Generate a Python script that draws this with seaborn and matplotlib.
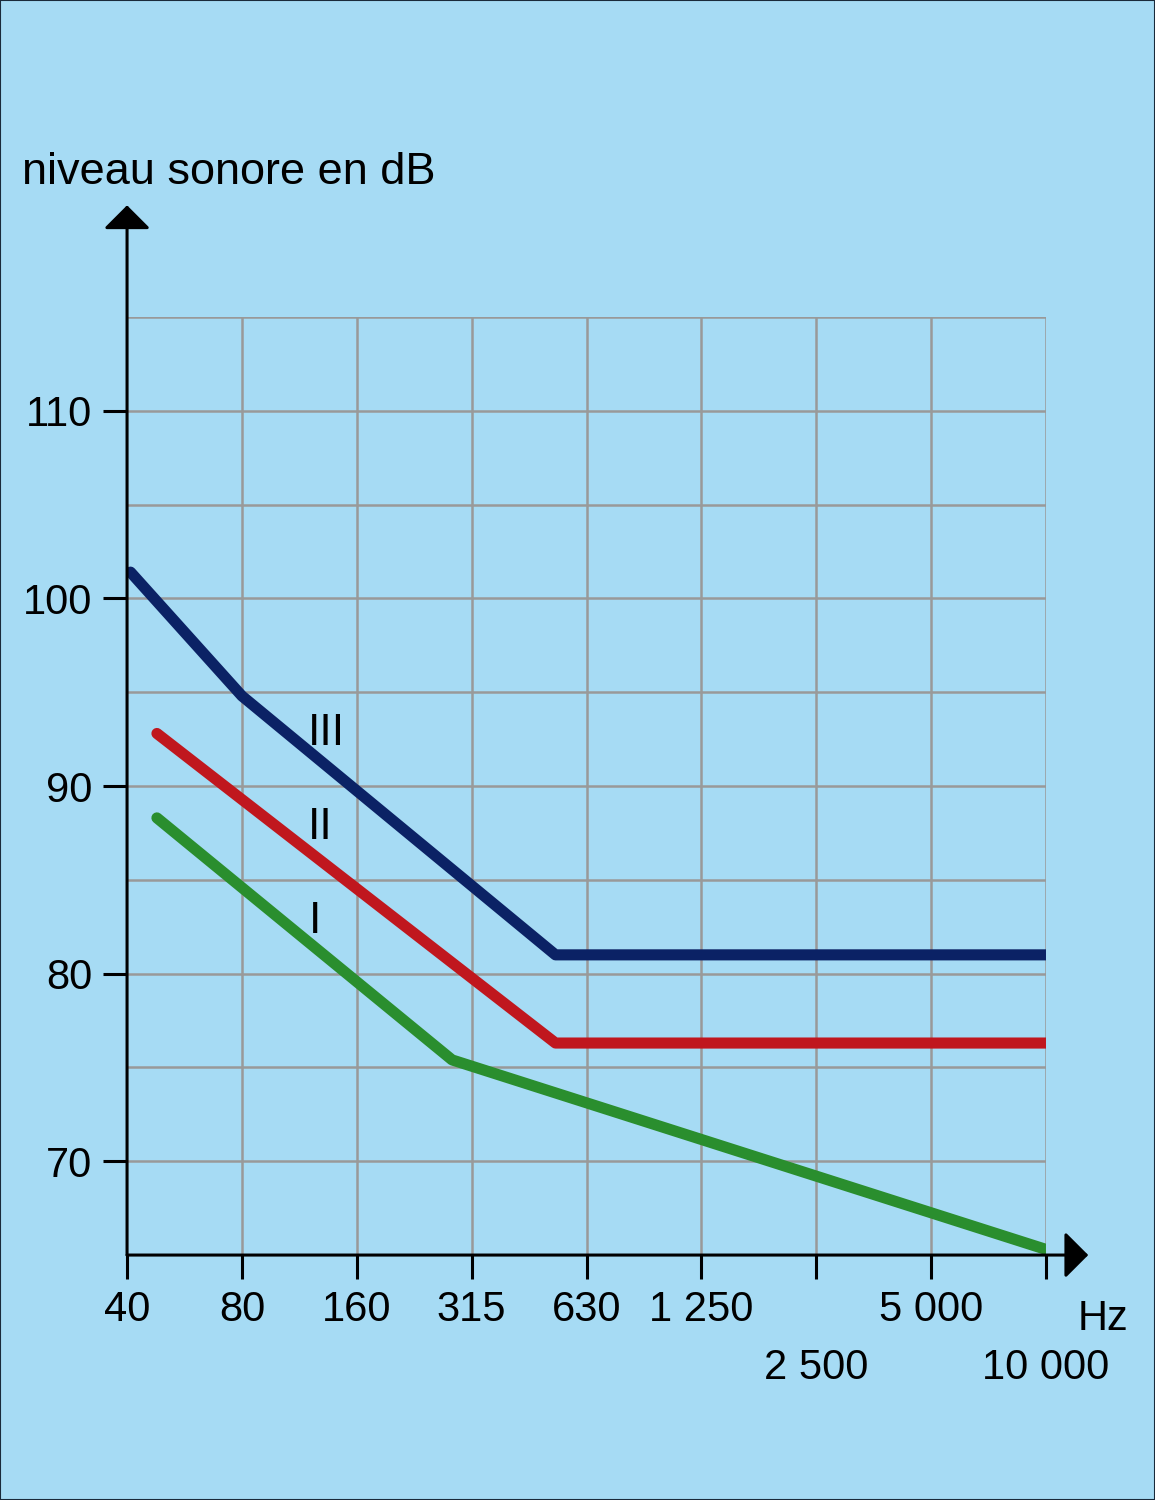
import matplotlib.pyplot as plt
import matplotlib.patches as mpatches
import seaborn as sns
import pandas as pd
import numpy as np

# octave band labels (x positions are band index 0..8)
bands = ['40', '80', '160', '315', '630', '1 250', '2 500', '5 000', '10 000']
y_ticks = [70, 80, 90, 100, 110]

# curves, x in octave-band units from the 40 Hz band
curve_III_x = [0.03, 1.0, 3.73, 8.0]
curve_III_y = [101.4, 94.8, 81.0, 81.0]
curve_II_x = [0.26, 3.73, 8.0]
curve_II_y = [92.8, 76.3, 76.3]
curve_I_x = [0.26, 2.83, 8.0]
curve_I_y = [88.3, 75.4, 65.3]

df = pd.concat([
    pd.DataFrame({'octave': curve_III_x, 'dB': curve_III_y, 'curve': 'III'}),
    pd.DataFrame({'octave': curve_II_x, 'dB': curve_II_y, 'curve': 'II'}),
    pd.DataFrame({'octave': curve_I_x, 'dB': curve_I_y, 'curve': 'I'}),
])

bg = '#a6dbf4'
palette = {'III': '#0b2265', 'II': '#c0171e', 'I': '#2a8e2e'}

sns.set_style('white')
plt.rcParams['font.family'] = ['Liberation Sans', 'DejaVu Sans']
plt.rcParams['text.color'] = 'black'
plt.rcParams['xtick.color'] = 'black'
plt.rcParams['ytick.color'] = 'black'

fig = plt.figure(figsize=(11.55, 15), dpi=100, facecolor=bg)
ax = fig.add_axes([0.110, 0.1633, 0.7956, 0.6254])
ax.set_facecolor(bg)

sns.lineplot(data=df, x='octave', y='dB', hue='curve', palette=palette,
             sort=False, estimator=None, linewidth=8, legend=False,
             solid_capstyle='round', ax=ax, zorder=3)

ax.set_xlim(0, 8)
ax.set_ylim(65, 115)

# grid
for i in range(1, 9):
    ax.axvline(i, color='#999999', lw=1.8, zorder=1)
for v in np.arange(70, 116, 5):
    ax.axhline(v, color='#999999', lw=1.8, zorder=1)

for s in ax.spines.values():
    s.set_visible(False)

# axis lines with arrows
arrow = dict(arrowstyle='-|>,head_length=1.45,head_width=1.45',
             color='black', lw=2.2, shrinkA=0, shrinkB=0)
ax.annotate('', xy=(0, 1.119), xytext=(0, 0), xycoords='axes fraction',
            arrowprops=arrow, annotation_clip=False, zorder=4)
ax.annotate('', xy=(1.046, 0), xytext=(0, 0), xycoords='axes fraction',
            arrowprops=arrow, annotation_clip=False, zorder=4)

ax.set_xticks(range(len(bands)), bands)
ax.set_yticks(y_ticks, [str(v) for v in y_ticks])
ax.tick_params(axis='both', length=17, width=2.2, color='black',
               labelsize=30, labelcolor='black', direction='out',
               left=True, bottom=True)
ax.tick_params(axis='x', pad=8)
ax.tick_params(axis='y', pad=8)
for i, t in enumerate(ax.xaxis.get_major_ticks()):
    if bands[i] in ('2 500', '10 000'):
        t.tick1line.set_markersize(61)
        t.set_pad(50)

ax.set_xlabel('')
ax.set_ylabel('')

fig.text(0.019, 0.885, 'niveau sonore en dB', fontsize=32.5, va='center', ha='left')
fig.text(0.933, 0.121, 'Hz', fontsize=30, va='center', ha='left')

# curve labels
ax.text(1.74, 92.8, 'III', fontsize=32, ha='center', va='center')
ax.text(1.68, 87.8, 'II', fontsize=32, ha='center', va='center')
ax.text(1.64, 82.8, 'I', fontsize=32, ha='center', va='center')

fig.patches.append(mpatches.Rectangle((0, 0), 1, 1, transform=fig.transFigure,
                                      fill=False, edgecolor='#1a2a3a', lw=1.5))

fig.savefig('out.png', dpi=100, facecolor=bg)
